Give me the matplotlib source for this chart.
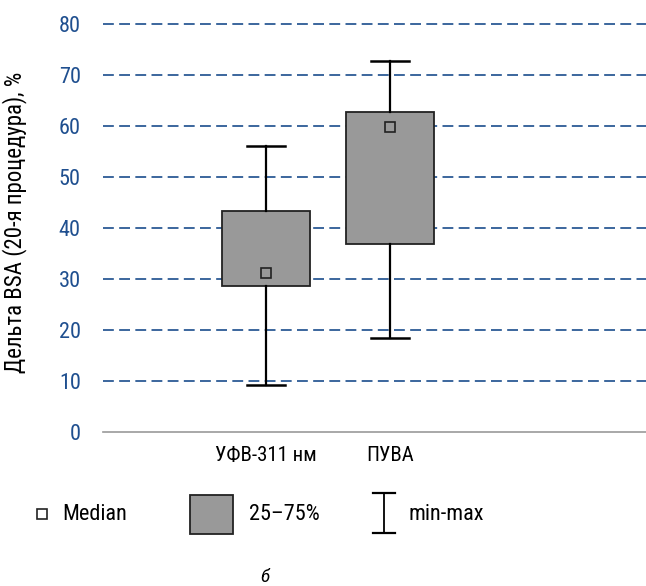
import matplotlib.pyplot as plt
import matplotlib.patches as mpatches
from matplotlib import font_manager

# --- data
groups = ["УФВ-311 нм", "ПУВА"]
q1 = [28.6, 36.9]
q3 = [43.3, 62.7]
medians = [31.2, 59.8]
mins = [9.2, 18.4]
maxs = [56.1, 72.7]
yticks = [0, 10, 20, 30, 40, 50, 60, 70, 80]

BLUE = "#1f4f8f"
GRID = "#1a4d8c"
BOX = "#999999"

# condensed face if there is one
names = {f.name for f in font_manager.fontManager.ttflist}
font = "Roboto"
for cand in ["Roboto Condensed", "PT Sans Narrow", "Fira Sans Condensed",
             "Liberation Sans Narrow", "Open Sans Condensed"]:
    if cand in names:
        font = cand
        break
plt.rcParams["font.family"] = [font, "DejaVu Sans"]

W, H = 646, 586
fig = plt.figure(figsize=(W / 100, H / 100), dpi=100)

# main axes: y=0 at px 432, y=80 at px 24
top_lim = 82
h_px = (432 - 24) * top_lim / 80
ax = fig.add_axes([103 / W, (H - 432) / H, 1 - 103 / W, h_px / H])
ax.set_xlim(-0.3145, 4.065)
ax.set_ylim(0, top_lim)

stats = []
for i, g in enumerate(groups):
    stats.append(dict(label=g, q1=q1[i], q3=q3[i], med=medians[i],
                      whislo=mins[i], whishi=maxs[i], fliers=[]))
ax.bxp(stats, positions=[1, 2], widths=0.71, patch_artist=True,
       showfliers=False, capwidths=0.31,
       boxprops=dict(facecolor=BOX, edgecolor="#222222", linewidth=1.3),
       whiskerprops=dict(color="black", linewidth=1.6),
       capprops=dict(color="black", linewidth=1.8),
       medianprops=dict(visible=False), zorder=3)
ax.plot([1, 2], medians, linestyle="none", marker="s", markersize=6.5,
        markerfacecolor=BOX, markeredgecolor="#222222", markeredgewidth=1.2,
        zorder=4)

for t in yticks[1:]:
    ax.axhline(t, color=GRID, linestyle=(0, (6.5, 3.2)), linewidth=1.2, zorder=1)

ax.set_yticks(yticks)
ax.set_yticklabels([str(t) for t in yticks], color=BLUE, fontsize=16)
ax.tick_params(axis="y", length=0, pad=16)
ax.tick_params(axis="x", length=0, pad=10, labelsize=15)
ax.set_xticks([1, 2])
ax.set_xticklabels(groups)
for s in ["top", "right", "left"]:
    ax.spines[s].set_visible(False)
ax.spines["bottom"].set_color("#999999")
ax.spines["bottom"].set_linewidth(1.2)
ax.set_ylabel("Дельта BSA (20-я процедура), %", fontsize=16.5)
ax.yaxis.set_label_coords(-76 / 543, 0.502)

# --- legend strip (pixel coordinates)
lax = fig.add_axes([0, 0, 1, 1])
lax.set_xlim(0, W)
lax.set_ylim(H, 0)
lax.axis("off")
lax.plot([42], [514], marker="s", markersize=6.5, markerfacecolor="white",
         markeredgecolor="#222222", markeredgewidth=1.2, linestyle="none")
lax.text(62, 514, "Median", fontsize=16, va="center")
lax.add_patch(mpatches.Rectangle((190, 495), 43, 39, facecolor=BOX,
                                 edgecolor="#222222", linewidth=1.3))
lax.text(249, 514, "25–75%", fontsize=16, va="center")
lax.plot([384, 384], [493, 533], color="black", linewidth=1.3)
lax.plot([373, 395], [493, 493], color="black", linewidth=1.6)
lax.plot([373, 395], [533, 533], color="black", linewidth=1.6)
lax.text(409, 514, "min-max", fontsize=16, va="center")
lax.text(265, 577, "б", fontsize=14, style="italic", ha="center", va="center")

fig.savefig("out.png", dpi=100)
